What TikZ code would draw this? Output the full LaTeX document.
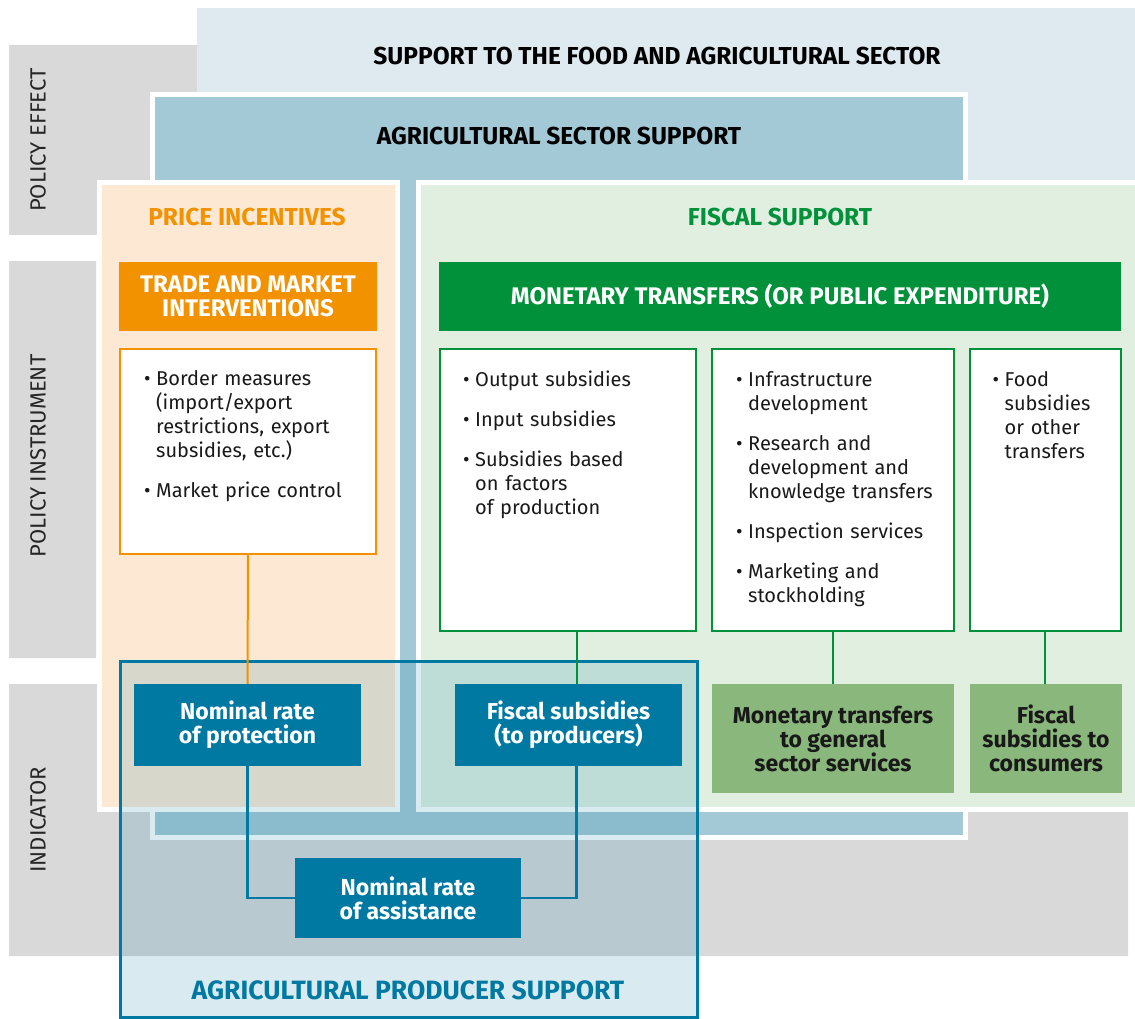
\documentclass[tikz,border=0pt]{standalone}
\usepackage{fontspec}
\setmainfont{Fira Sans}
\usetikzlibrary{positioning}

\definecolor{panelgray}{HTML}{D9D9D9}
\definecolor{foodblue}{HTML}{DFEAF0}
\definecolor{secblue}{HTML}{A3C8D6}
\definecolor{priceback}{HTML}{FDE9D3}
\definecolor{priceorange}{HTML}{F39200}
\definecolor{fiscalback}{HTML}{E1EFE1}
\definecolor{fiscalgreen}{HTML}{00913A}
\definecolor{indgreen}{HTML}{8AB77C}
\definecolor{prodteal}{HTML}{0079A2}

\newcommand{\bul}[1]{\par\hangindent=12pt\hangafter=1\noindent\makebox[12pt][l]{\textbullet}#1\par\vspace{16pt}}

\tikzset{
  sidelabel/.style={rotate=90, text=black!85, font=\fontsize{22}{24}\selectfont},
  bigtitle/.style={font=\bfseries\fontsize{24.5}{26}\selectfont},
  header/.style={fill=#1, text=white, align=center, inner sep=0pt, minimum height=69pt,
                 font=\bfseries\fontsize{24}{24}\selectfont},
  listbox/.style={draw=#1, line width=2pt, fill=white, inner sep=0pt},
  listtext/.style={anchor=north west, text width=#1, align=left, inner sep=0pt,
                   text=black!90, font=\fontsize{20}{24}\selectfont},
  tealbox/.style={fill=prodteal, text=white, align=center, inner sep=0pt,
                  font=\bfseries\fontsize{23}{24}\selectfont},
  greenbox/.style={fill=indgreen, text=black!90, align=center, inner sep=0pt,
                   minimum height=109pt, font=\bfseries\fontsize{23}{24}\selectfont},
}

\begin{document}
\begin{tikzpicture}[x=1pt, y=-1pt]
  \useasboundingbox (0,0) rectangle (1135,1019);
  \fill [panelgray] (9,45) rectangle (197,235)
                    (9,261) rectangle (96,658)
                    (9,684) rectangle (1128,956);
  \fill [foodblue] (197,8) rectangle (1135,185);
  \filldraw [fill=secblue, draw=white, line width=5pt] (152.5,94.5) rectangle (965.5,837.5);
  \filldraw [fill=priceback, draw=white, line width=5pt] (99.5,182.5) rectangle (397.5,809.5);
  \filldraw [fill=fiscalback, draw=white, line width=5pt] (418.5,182.5) rectangle (1145,809.5);

  \node [sidelabel] (effect) at (38,140) {POLICY EFFECT};
  \node [sidelabel] (instr) at (38,456) {POLICY INSTRUMENT};
  \node [sidelabel] (indic) at (38,820) {INDICATOR};

  \node [bigtitle] (food) at (657,56) {SUPPORT TO THE FOOD AND AGRICULTURAL SECTOR};
  \node [bigtitle] (agsec) at (559,136) {AGRICULTURAL SECTOR SUPPORT};
  \node [bigtitle, text=priceorange] (price) at (247,217) {PRICE INCENTIVES};
  \node [bigtitle, text=fiscalgreen] (fiscal) at (780,217) {FISCAL SUPPORT};

  \node [header=priceorange, minimum width=258pt] (trade) at (248,296.5) {TRADE AND MARKET\\INTERVENTIONS};
  \node [header=fiscalgreen, minimum width=682pt] (monetary) at (780,296.5) {MONETARY TRANSFERS (OR PUBLIC EXPENDITURE)};

  \node [listbox=priceorange, minimum width=256pt, minimum height=205pt] (border) at (248,451) {};
  \node [listbox=fiscalgreen, minimum width=256pt, minimum height=282pt] (output) at (568,490) {};
  \node [listbox=fiscalgreen, minimum width=242pt, minimum height=282pt] (infra) at (833,490) {};
  \node [listbox=fiscalgreen, minimum width=151pt, minimum height=282pt] (foodsub) at (1045,490) {};

  \node [listtext=220pt] (bordertxt) at ([xshift=25pt, yshift=-14pt]border.north west)
    {\bul{Border measures\newline(import/export\newline restrictions, export\newline subsidies, etc.)}\bul{Market price control}};
  \node [listtext=220pt] (outputtxt) at ([xshift=24pt, yshift=-14pt]output.north west)
    {\bul{Output subsidies}\bul{Input subsidies}\bul{Subsidies based\newline on factors\newline of production}};
  \node [listtext=215pt] (infratxt) at ([xshift=25pt, yshift=-14pt]infra.north west)
    {\bul{Infrastructure\newline development}\bul{Research and\newline development and\newline knowledge transfers}\bul{Inspection services}\bul{Marketing and\newline stockholding}};
  \node [listtext=130pt] (foodtxt) at ([xshift=24pt, yshift=-14pt]foodsub.north west)
    {\bul{Food\newline subsidies\newline or other\newline transfers}};

  \filldraw [fill=prodteal, fill opacity=0.15, draw=prodteal, line width=3pt] (120,661) rectangle (697,1017.5);
  \node [font=\bfseries\fontsize{26.5}{28}\selectfont, text=prodteal] (aps) at (408,990) {AGRICULTURAL PRODUCER SUPPORT};

  \node [tealbox, minimum width=227pt, minimum height=82pt] (nrp) at (247.5,725) {Nominal rate\\of protection};
  \node [tealbox, minimum width=227pt, minimum height=82pt] (fsp) at (568.5,725) {Fiscal subsidies\\(to producers)};
  \node [tealbox, minimum width=226pt, minimum height=80pt] (nra) at (408,898) {Nominal rate\\of assistance};
  \node [greenbox, minimum width=242pt] (mtg) at (833,738.5) {Monetary transfers\\to general\\sector services};
  \node [greenbox, minimum width=152pt] (fsc) at (1046,738.5) {Fiscal\\subsidies to\\consumers};

  \draw [priceorange, line width=2pt] (border.south) -- (nrp.north);
  \draw [fiscalgreen, line width=2pt] ([xshift=8pt]fsp.north) -- ([xshift=8pt]fsp.north |- output.south)
                                      (infra.south) -- (mtg.north)
                                      (foodsub.south) -- (foodsub.south |- fsc.north);
  \draw [prodteal, line width=2.5pt] (nrp.south) |- (nra.west)
                                     ([xshift=8pt]fsp.south) |- (nra.east);
\end{tikzpicture}
\end{document}
